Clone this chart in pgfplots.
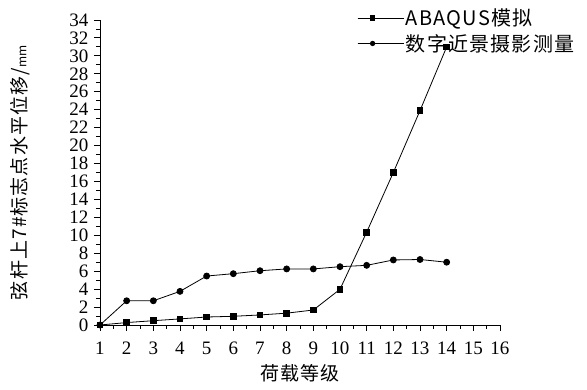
\documentclass[border=0pt]{standalone}
\usepackage{fontspec}
\usepackage{pgfplots}
\pgfplotsset{compat=1.18}
\setmainfont{Liberation Serif}
\newfontfamily\cjk{Noto Sans CJK SC}
\newfontfamily\cjks[LetterSpace=6]{Noto Sans CJK SC}
\begin{document}
\begin{tikzpicture}
\useasboundingbox (-100pt,-65pt) rectangle (487pt,325pt);
\begin{axis}[
 at={(0,0)}, anchor=south west,
 scale only axis, width=400pt, height=305pt,
 xmin=1, xmax=16, ymin=0, ymax=34,
 axis lines=left, axis line style={-, line width=0.9pt},
 xtick={1,...,16}, ytick={0,2,...,34},
 minor x tick num=1, minor y tick num=1,
 tick align=outside, major tick length=6pt, minor tick length=4pt,
 tick style={black, line width=0.9pt},
 /pgf/number format/assume math mode=true,
 ticklabel style={font=\fontsize{19}{19}\selectfont, inner ysep=0pt},
 yticklabel style={xshift=-2pt},
 xticklabel style={yshift=-11pt},
 xlabel={\cjks 荷载等级},
 ylabel={\cjks 弦杆上7\#标志点水平位移/{\fontsize{12}{12}\selectfont mm}},
 label style={font=\fontsize{19}{19}\selectfont},
 xlabel style={at={(axis description cs:0.5,-0.157)}, anchor=center},
 ylabel style={at={(axis description cs:-0.2,0.5)}, anchor=center, rotate=0},
 legend style={draw=none, fill=none, at={(axis description cs:0.635,1.05)}, anchor=north west,
   font=\cjks\fontsize{20}{22}\selectfont, row sep=3pt},
 legend cell align=left,
 legend image code/.code={\draw[mark repeat=2,mark phase=2, mark size=2.2pt] plot coordinates {(0pt,0pt)(15pt,0pt)(30pt,0pt)};\path (0pt,0pt) -- (46pt,0pt);},
]
\addplot[black, line width=0.8pt, mark=square*, mark size=2.8pt] coordinates {
(1,0) (2,0.27) (3,0.48) (4,0.68) (5,0.89) (6,0.97) (7,1.12) (8,1.32) (9,1.67) (10,3.98) (11,10.35) (12,17.0) (13,23.9) (14,31.0)};
\addlegendentry{ABAQUS模拟}
\addplot[black, line width=0.8pt, mark=*, mark size=3pt] coordinates {
(1,0) (2,2.7) (3,2.7) (4,3.75) (5,5.46) (6,5.72) (7,6.05) (8,6.25) (9,6.25) (10,6.5) (11,6.65) (12,7.25) (13,7.3) (14,7.0)};
\addlegendentry{数字近景摄影测量}
\end{axis}
\end{tikzpicture}
\end{document}
